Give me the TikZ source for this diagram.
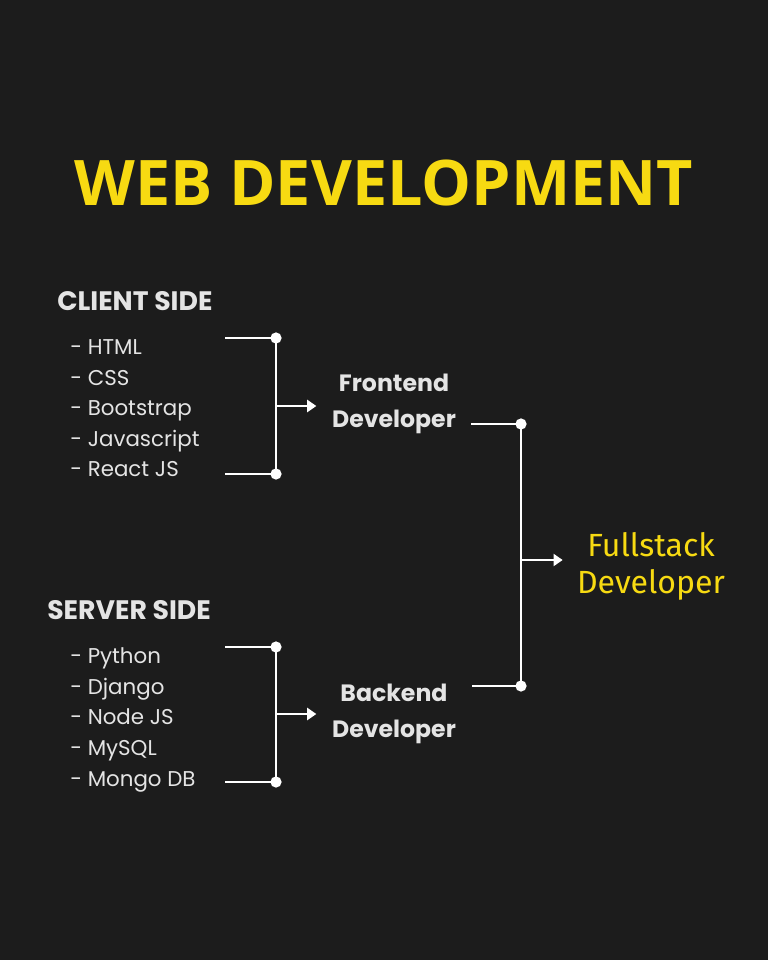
\documentclass[tikz,border=0pt]{standalone}
\usepackage{fontspec}
\setmainfont{Poppins}
\newfontfamily\titlefont{Open Sans}
\newfontfamily\fullfont{Fira Sans}
\usetikzlibrary{positioning}
\usetikzlibrary{arrows.meta}
\definecolor{bgdark}{HTML}{1C1C1C}
\definecolor{webyellow}{HTML}{F7DA12}
\definecolor{softwhite}{HTML}{E4E4E4}

\begin{document}
\begin{tikzpicture}[
x=0.025cm, y=-0.025cm,
heading/.style={text=softwhite, font=\bfseries\fontsize{19}{24}\selectfont, anchor=base west, inner sep=0pt},
item/.style={text=softwhite, font=\fontsize{15.2}{20}\selectfont, anchor=base west, inner sep=0pt},
role/.style={text=softwhite, font=\bfseries\fontsize{16.8}{25.5}\selectfont, align=center, inner sep=0pt},
link/.style={white, line width=2pt},
dot/.style={circle, fill=white, inner sep=0pt, minimum size=8pt},
arrow/.style={link, -{Triangle[length=6.5pt,width=8.5pt]}}
]

% background
\fill[bgdark] (0,0) rectangle (768,960);
\useasboundingbox (0,0) rectangle (768,960);

% title
\node[anchor=base, inner sep=0pt, text=webyellow, font=\titlefont\bfseries\fontsize{44.7}{50}\selectfont] (title) at (384,205) {WEB DEVELOPMENT};

% client side
\node[heading] (client) at (57,310) {CLIENT SIDE};
\node[item] (html) at (70,354) {- HTML};
\node[item] (css) at (70,385) {- CSS};
\node[item] (boot) at (70,415) {- Bootstrap};
\node[item] (js) at (70,446) {- Javascript};
\node[item] (react) at (70,476) {- React JS};

% server side
\node[heading] (server) at (47,619) {SERVER SIDE};
\node[item] (python) at (70,663) {- Python};
\node[item] (django) at (70,694) {- Django};
\node[item] (nodejs) at (70,724) {- Node JS};
\node[item] (mysql) at (70,755) {- MySQL};
\node[item] (mongo) at (70,786) {- Mongo DB};

% roles
\node[role] (front) at (394,404) {Frontend\\Developer};
\node[role] (back) at (394,714) {Backend\\Developer};
\node[inner sep=0pt, align=center, text=webyellow, font=\fullfont\fontsize{22.8}{26.2}\selectfont] (full) at (651,566) {Fullstack\\Developer};

% bracket points
\coordinate (cliTopL) at (225,338);
\coordinate (cliTop) at (276,338);
\coordinate (cliBotL) at (225,474);
\coordinate (cliBot) at (276,474);
\coordinate (cliMid) at (276,406);
\coordinate (srvTopL) at (225,647);
\coordinate (srvTop) at (276,647);
\coordinate (srvBotL) at (225,782);
\coordinate (srvBot) at (276,782);
\coordinate (srvMid) at (276,714);
\coordinate (frontL) at (471,424);
\coordinate (frontR) at (521,424);
\coordinate (backL) at (472,686);
\coordinate (backR) at (521,686);
\coordinate (fullMid) at (521,560);

% client bracket
\draw[link] (cliTopL) -- (cliTop) -- (cliBot) -- (cliBotL);
\node[dot] (d1) at (cliTop) {};
\node[dot] (d2) at (cliBot) {};
\draw[arrow, shorten >=11pt] (cliMid) -- (cliMid -| front.west);

% server bracket
\draw[link] (srvTopL) -- (srvTop) -- (srvBot) -- (srvBotL);
\node[dot] (d3) at (srvTop) {};
\node[dot] (d4) at (srvBot) {};
\draw[arrow, shorten >=11pt] (srvMid) -- (srvMid -| back.west);

% fullstack bracket
\draw[link] (frontL) -- (frontR) -- (backR) -- (backL);
\node[dot] (d5) at (frontR) {};
\node[dot] (d6) at (backR) {};
\draw[arrow, shorten >=10pt] (fullMid) -- (fullMid -| full.west);

\end{tikzpicture}
\end{document}
